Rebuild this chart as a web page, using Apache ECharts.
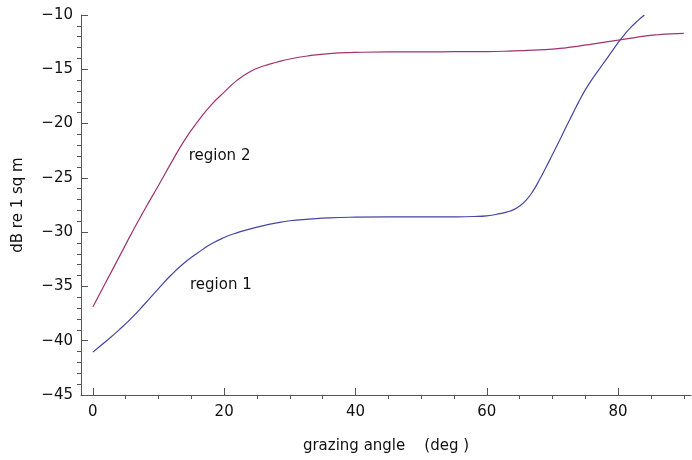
<!DOCTYPE html>
<html>
<head>
<meta charset="utf-8">
<script src="https://cdn.jsdelivr.net/npm/echarts@6/dist/echarts.min.js"></script>
<style>
  html, body { margin: 0; padding: 0; background: #ffffff; }
  #chart { width: 692px; height: 460px; }
</style>
</head>
<body>
<div id="chart"></div>
<script>
// Backscattering strength vs grazing angle, two seafloor regions
const region1Angle = [0, 2, 4, 6, 8, 10, 12, 14, 16, 18, 20, 22, 24, 26, 28, 30, 33, 36, 40, 45, 50, 55, 58, 60, 62, 63, 64, 65, 66, 67, 68, 69, 70, 71, 72, 73, 74, 75, 76, 77, 78, 79, 80, 81, 82, 83, 84];
const region1Db    = [-41.05, -40.05, -39.0, -37.85, -36.55, -35.2, -33.9, -32.8, -31.9, -31.1, -30.5, -30.05, -29.7, -29.4, -29.15, -28.95, -28.8, -28.68, -28.62, -28.6, -28.6, -28.59, -28.56, -28.5, -28.3, -28.15, -27.95, -27.6, -27.05, -26.25, -25.2, -24.05, -22.85, -21.65, -20.4, -19.2, -18.0, -16.9, -15.95, -15.1, -14.25, -13.4, -12.55, -11.78, -11.1, -10.52, -10.0];

const region2Angle = [0, 2, 4, 6, 8, 10, 12, 14, 16, 18, 20, 22, 24, 26, 28, 30, 33, 36, 40, 45, 50, 55, 60, 64, 67, 70, 72, 74, 76, 78, 80, 82, 84, 86, 88, 90];
const region2Db    = [-36.9, -34.6, -32.3, -30.0, -27.8, -25.7, -23.55, -21.5, -19.8, -18.3, -17.1, -16.0, -15.2, -14.7, -14.35, -14.05, -13.75, -13.55, -13.45, -13.4, -13.4, -13.38, -13.37, -13.31, -13.24, -13.14, -13.02, -12.86, -12.68, -12.5, -12.32, -12.13, -11.95, -11.82, -11.73, -11.69];

const seriesNames = ['region 1', 'region 2'];
const seriesLabelAt = [[19.5, -34.9], [19.3, -23.0]];

const xMajorTicks = [0, 20, 40, 60, 80];
const xMinorTicks = [5, 10, 15, 25, 30, 35, 45, 50, 55, 65, 70, 75, 85, 90];
const yMajorTicks = [-45, -40, -35, -30, -25, -20, -15, -10];
const yMinorTicks = [-44, -43, -42, -41, -39, -38, -37, -36, -34, -33, -32, -31, -29, -28, -27, -26,
                     -24, -23, -22, -21, -19, -18, -17, -16, -14, -13, -12, -11];

const xTitle = 'grazing angle    (deg )';
const yTitle = 'dB re 1 sq m';

const FONT = 'DejaVu Sans';
const INK = '#111111';
const AXIS = '#555555';
const X_RANGE = [-1.8, 91.1];
const Y_RANGE = [-45, -10];

function zip(xs, ys) { return xs.map((x, i) => [x, ys[i]]); }
function minus(v) { return String(v).replace('-', '\u2212'); }

// a tick-only axis sharing the range of the main one (used for the short minor ticks);
// it sits on the opposite side internally, so its "outside" faces into the plot
function minorAxis(range, position, ticks) {
  return {
    type: 'value', min: range[0], max: range[1], position: position,
    axisLine: { show: true, onZero: false, lineStyle: { color: AXIS, opacity: 0 } },
    axisTick: { show: true, inside: false, length: 4, customValues: ticks, lineStyle: { color: AXIS } },
    axisLabel: { show: false },
    splitLine: { show: false }
  };
}

const chart = echarts.init(document.getElementById('chart'), null, { renderer: 'canvas' });

chart.setOption({
  animation: false,
  backgroundColor: '#ffffff',
  grid: { left: 81, right: 1, top: 15, bottom: 65, containLabel: false },
  xAxis: [
    {
      type: 'value', min: X_RANGE[0], max: X_RANGE[1], position: 'bottom',
      name: xTitle, nameLocation: 'middle', nameGap: 44,
      nameTextStyle: { fontFamily: FONT, fontSize: 15, color: INK },
      axisLine: { show: true, onZero: false, lineStyle: { color: AXIS, width: 1 } },
      axisTick: { show: true, inside: true, length: 7, customValues: xMajorTicks, lineStyle: { color: AXIS } },
      axisLabel: { show: true, margin: 10, customValues: xMajorTicks, formatter: minus,
                   fontFamily: FONT, fontSize: 15, color: INK },
      splitLine: { show: false }
    },
    minorAxis(X_RANGE, 'bottom', xMinorTicks)
  ],
  yAxis: [
    {
      type: 'value', min: Y_RANGE[0], max: Y_RANGE[1], interval: 5, position: 'left',
      name: yTitle, nameLocation: 'middle', nameGap: 55, nameRotate: 90,
      nameTextStyle: { fontFamily: FONT, fontSize: 15, color: INK },
      axisLine: { show: true, onZero: false, lineStyle: { color: AXIS, width: 1 } },
      axisTick: { show: true, inside: true, length: 7, customValues: yMajorTicks, lineStyle: { color: AXIS } },
      axisLabel: { show: true, margin: 8, customValues: yMajorTicks, formatter: minus,
                   fontFamily: FONT, fontSize: 15, color: INK },
      splitLine: { show: false }
    },
    minorAxis(Y_RANGE, 'left', yMinorTicks)
  ],
  series: [
    {
      name: seriesNames[0], type: 'line', xAxisIndex: 0, yAxisIndex: 0,
      data: zip(region1Angle, region1Db), smooth: 0.5,
      showSymbol: false, symbol: 'none',
      lineStyle: { color: '#4545a5', width: 1.2 }, clip: true
    },
    {
      name: seriesNames[1], type: 'line', xAxisIndex: 0, yAxisIndex: 0,
      data: zip(region2Angle, region2Db), smooth: 0.5,
      showSymbol: false, symbol: 'none',
      lineStyle: { color: '#9e3470', width: 1.2 }, clip: true
    },
    {
      type: 'scatter', xAxisIndex: 0, yAxisIndex: 0, symbolSize: 0, silent: true,
      itemStyle: { opacity: 1 },
      data: seriesLabelAt.map((p, i) => ({ value: p, name: seriesNames[i] })),
      label: { show: true, position: 'inside', formatter: '{b}', opacity: 1,
               fontFamily: FONT, fontSize: 15, color: INK }
    }
  ]
});
</script>
</body>
</html>
